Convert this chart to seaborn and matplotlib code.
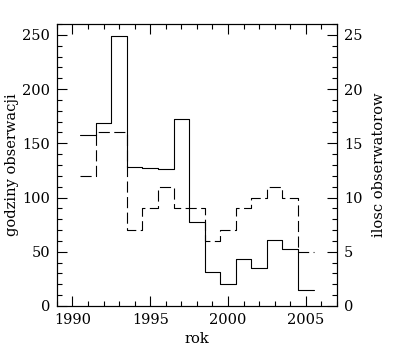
import matplotlib
matplotlib.use("Agg")
import matplotlib.pyplot as plt
import numpy as np
import pandas as pd
import seaborn as sns
from matplotlib.ticker import MultipleLocator

years = [1991, 1992, 1993, 1994, 1995, 1996, 1997, 1998,
         1999, 2000, 2001, 2002, 2003, 2004, 2005]
hours = [158, 169, 249, 128, 127, 126, 172, 77, 31, 20, 43, 35, 61, 53, 15]
observers = [12, 16, 16, 7, 9, 11, 9, 9, 6, 7, 9, 10, 11, 10, 5]

sns.set_style("ticks")
plt.rcParams['font.family'] = ['DejaVu Serif']
plt.rcParams['font.size'] = 10.5
plt.rcParams['text.color'] = 'black'
plt.rcParams['axes.labelcolor'] = 'black'
plt.rcParams['xtick.color'] = 'black'
plt.rcParams['ytick.color'] = 'black'
plt.rcParams['axes.edgecolor'] = 'black'

# step edges: each year's bin spans year-0.5 .. year+0.5
edges = [y - 0.5 for y in years] + [years[-1] + 0.5]
df = pd.DataFrame({
    "rok": edges,
    "godziny": hours + [hours[-1]],
    "obs": observers + [observers[-1]],
})

fig = plt.figure(figsize=(3.95, 3.54), dpi=100)
ax = fig.add_axes([0.144, 0.1356, 0.709, 0.7966])
ax2 = ax.twinx()

sns.lineplot(data=df, x="rok", y="godziny", ax=ax, color="black", lw=0.8,
             drawstyle="steps-post", sort=False, estimator=None)
sns.lineplot(data=df, x="rok", y="obs", ax=ax2, color="black", lw=0.8,
             drawstyle="steps-post", sort=False, estimator=None,
             dashes=False, linestyle=(0, (10, 4)))

ax.set_xlim(1989, 2007)
ax.set_ylim(0, 260)
ax2.set_ylim(0, 26)

ax.xaxis.set_major_locator(MultipleLocator(5))
ax.xaxis.set_minor_locator(MultipleLocator(1))
ax.yaxis.set_major_locator(MultipleLocator(50))
ax.yaxis.set_minor_locator(MultipleLocator(10))
ax2.yaxis.set_major_locator(MultipleLocator(5))
ax2.yaxis.set_minor_locator(MultipleLocator(1))

ax.tick_params(axis="x", which="both", direction="in", top=True, pad=5)
ax.tick_params(axis="y", which="both", direction="in", right=False, pad=5)
ax.tick_params(which="major", length=7, width=0.8)
ax.tick_params(which="minor", length=3.5, width=0.8)
ax2.tick_params(axis="y", which="both", direction="in", pad=5)
ax2.tick_params(which="major", length=7, width=0.8)
ax2.tick_params(which="minor", length=3.5, width=0.8)

for a in (ax, ax2):
    for s in a.spines.values():
        s.set_linewidth(0.8)

ax.set_xlabel("rok", labelpad=4)
ax.set_ylabel("godziny obserwacji", labelpad=2)
ax2.set_ylabel("ilosc obserwatorow", labelpad=7)

fig.savefig("out.png", dpi=100)
